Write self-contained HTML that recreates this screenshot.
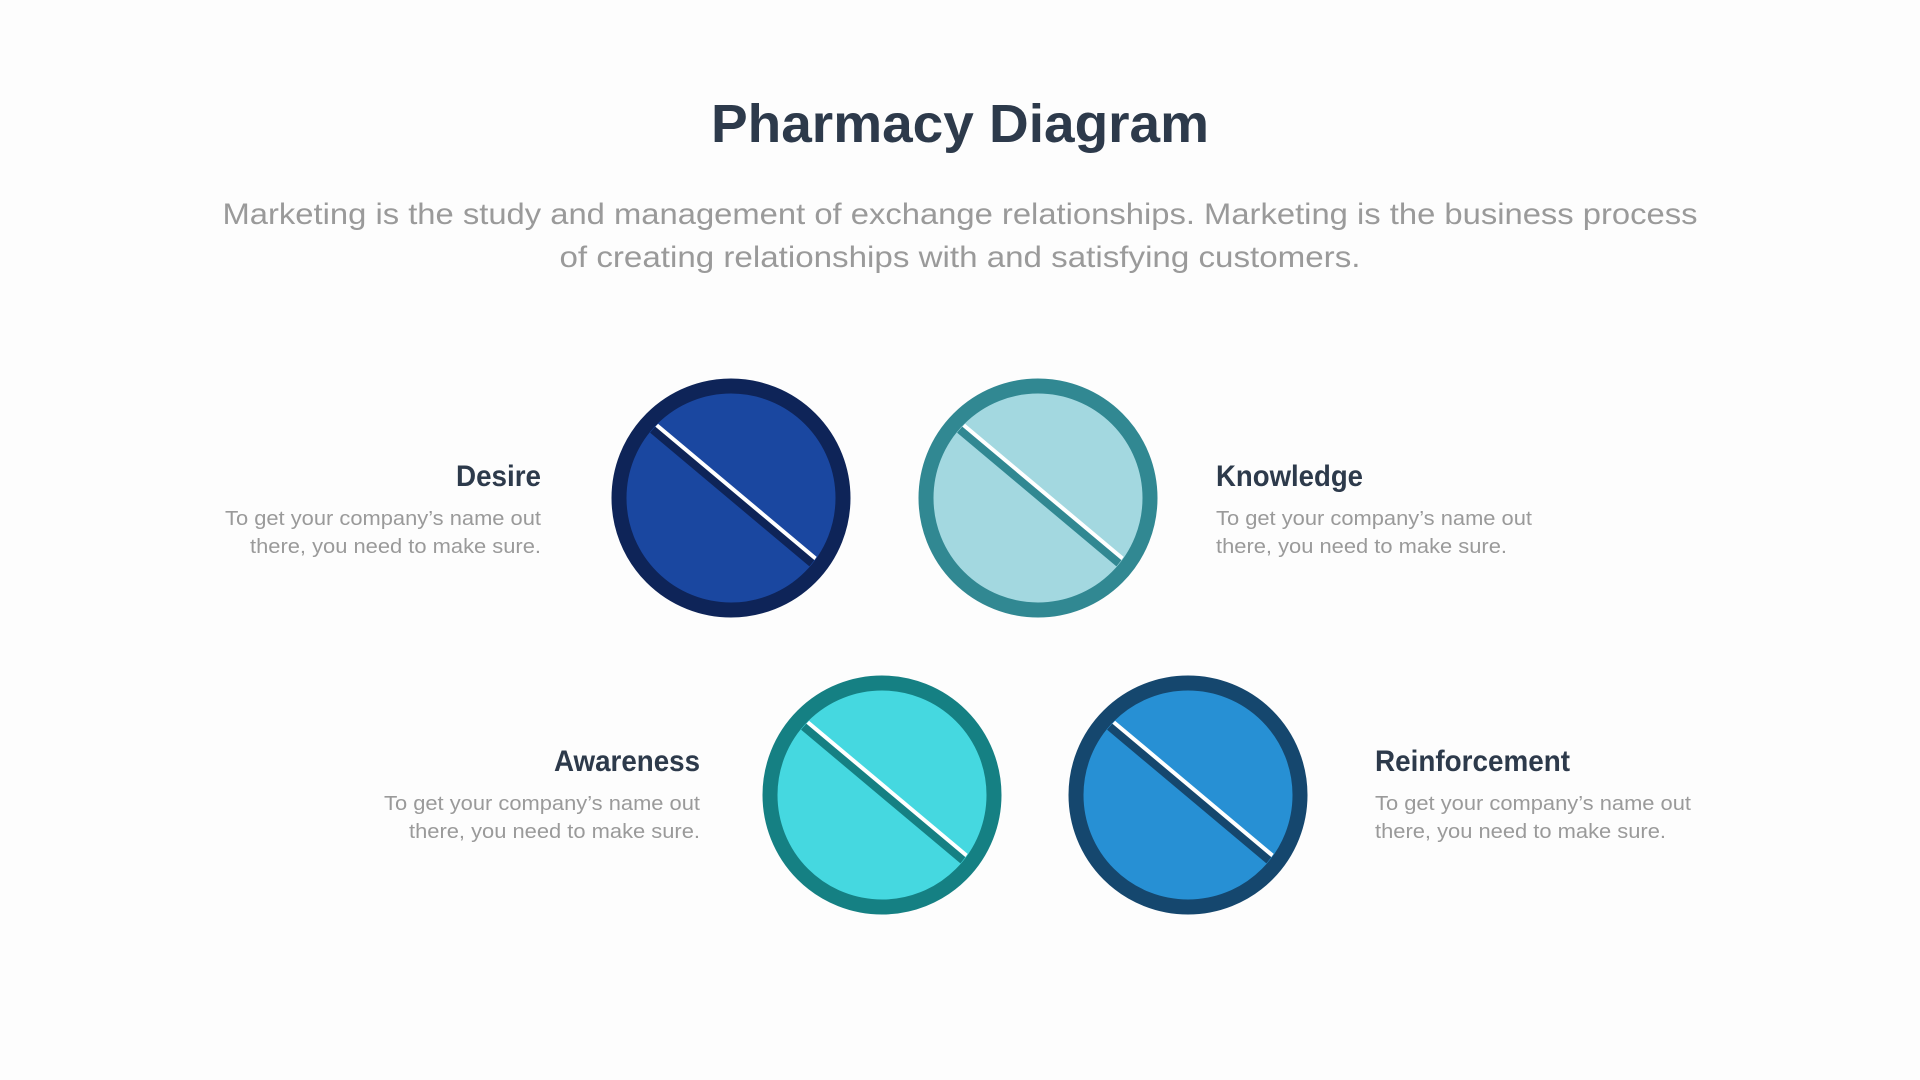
<!DOCTYPE html>
<html><head><meta charset="utf-8"><style>
html,body{margin:0;padding:0;background:#fdfdfd;}
svg{display:block}
</style></head><body>
<svg width="1920" height="1080" viewBox="0 0 1920 1080" xmlns="http://www.w3.org/2000/svg">
<rect width="1920" height="1080" fill="#fdfdfd"/>
<defs>
<clipPath id="c1"><circle cx="731" cy="498" r="104"/></clipPath>
<clipPath id="c2"><circle cx="1038" cy="498" r="104"/></clipPath>
<clipPath id="c3"><circle cx="882" cy="795" r="104"/></clipPath>
<clipPath id="c4"><circle cx="1188" cy="795" r="104"/></clipPath>
</defs>
<text x="960" y="142" text-anchor="middle" font-family="Liberation Sans, sans-serif" font-weight="bold" font-size="54" fill="#2d3a4b" textLength="498" lengthAdjust="spacingAndGlyphs">Pharmacy Diagram</text>
<g font-family="Liberation Sans, sans-serif" font-size="30" fill="#9a9a9a" text-anchor="middle">
<text x="960" y="224" textLength="1475" lengthAdjust="spacingAndGlyphs">Marketing is the study and management of exchange relationships. Marketing is the business process</text>
<text x="960" y="267" textLength="801" lengthAdjust="spacingAndGlyphs">of creating relationships with and satisfying customers.</text>
</g>

<!-- pills -->
<g>
<circle cx="731" cy="498" r="112" fill="#1a47a0" stroke="#0e2458" stroke-width="15"/>
<g clip-path="url(#c1)" transform="rotate(40 731 498)"><rect x="611" y="490" width="240" height="10" fill="#0e2458"/><rect x="611" y="488" width="240" height="4" fill="#fff"/></g>
</g>
<g>
<circle cx="1038" cy="498" r="112" fill="#a3d8e0" stroke="#318892" stroke-width="15"/>
<g clip-path="url(#c2)" transform="rotate(40 1038 498)"><rect x="918" y="490" width="240" height="10" fill="#318892"/><rect x="918" y="488" width="240" height="4" fill="#fff"/></g>
</g>
<g>
<circle cx="882" cy="795" r="112" fill="#45d8e0" stroke="#158083" stroke-width="15"/>
<g clip-path="url(#c3)" transform="rotate(40 882 795)"><rect x="762" y="787" width="240" height="10" fill="#158083"/><rect x="762" y="785" width="240" height="4" fill="#fff"/></g>
</g>
<g>
<circle cx="1188" cy="795" r="112" fill="#2790d4" stroke="#15476e" stroke-width="15"/>
<g clip-path="url(#c4)" transform="rotate(40 1188 795)"><rect x="1068" y="787" width="240" height="10" fill="#15476e"/><rect x="1068" y="785" width="240" height="4" fill="#fff"/></g>
</g>

<g font-family="Liberation Sans, sans-serif" font-weight="bold" font-size="30" fill="#2d3a4b">
<text x="541" y="486" text-anchor="end" textLength="85" lengthAdjust="spacingAndGlyphs">Desire</text>
<text x="1216" y="486" textLength="147" lengthAdjust="spacingAndGlyphs">Knowledge</text>
<text x="700" y="771" text-anchor="end" textLength="146" lengthAdjust="spacingAndGlyphs">Awareness</text>
<text x="1375" y="771" textLength="195" lengthAdjust="spacingAndGlyphs">Reinforcement</text>
</g>
<g font-family="Liberation Sans, sans-serif" font-size="20" fill="#9a9a9a">
<text x="541" y="525" text-anchor="end" textLength="316" lengthAdjust="spacingAndGlyphs">To get your company’s name out</text>
<text x="541" y="553" text-anchor="end" textLength="291" lengthAdjust="spacingAndGlyphs">there, you need to make sure.</text>
<text x="1216" y="525" textLength="316" lengthAdjust="spacingAndGlyphs">To get your company’s name out</text>
<text x="1216" y="553" textLength="291" lengthAdjust="spacingAndGlyphs">there, you need to make sure.</text>
<text x="700" y="810" text-anchor="end" textLength="316" lengthAdjust="spacingAndGlyphs">To get your company’s name out</text>
<text x="700" y="838" text-anchor="end" textLength="291" lengthAdjust="spacingAndGlyphs">there, you need to make sure.</text>
<text x="1375" y="810" textLength="316" lengthAdjust="spacingAndGlyphs">To get your company’s name out</text>
<text x="1375" y="838" textLength="291" lengthAdjust="spacingAndGlyphs">there, you need to make sure.</text>
</g>
</svg>
</body></html>
